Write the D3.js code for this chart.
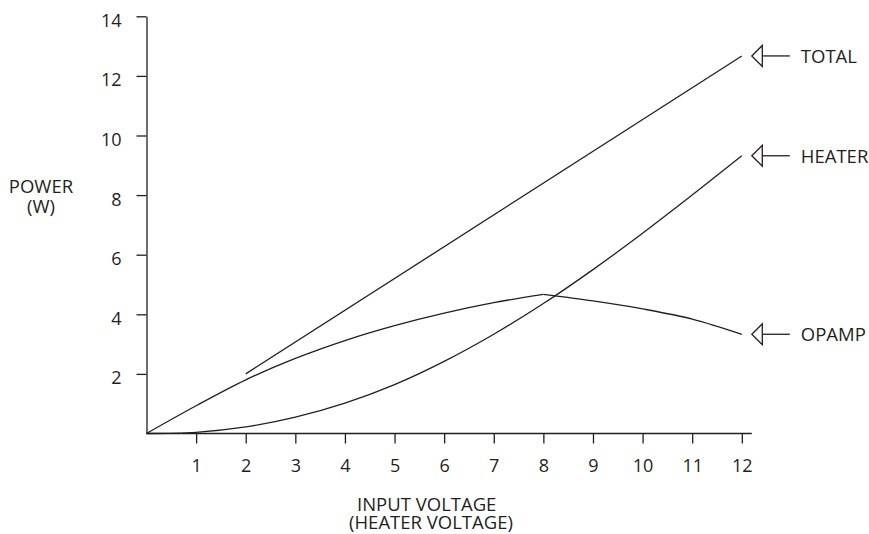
<!DOCTYPE html>
<html>
<head>
<meta charset="utf-8">
<script src="https://cdn.jsdelivr.net/npm/d3@7"></script>
<style>
  body { margin: 0; background: #ffffff; }
  svg { display: block; }
  text { font-family: "Open Sans", "Noto Sans", sans-serif; fill: #231f20; }
</style>
</head>
<body>
<svg id="chart" width="869" height="534"></svg>
<script>
// Power dissipation versus input (heater) voltage
const voltages     = [0, 1, 2, 3, 4, 5, 6, 7, 8, 9, 10, 11, 12];
const heaterPower  = [0, 0.04, 0.22, 0.55, 1.02, 1.64, 2.42, 3.33, 4.36, 5.50, 6.72, 8.00, 9.32];
const opampPower   = [0, 0.93, 1.80, 2.52, 3.12, 3.62, 4.04, 4.39, 4.67, 4.45, 4.18, 3.84, 3.33];
const totalVoltage = [2, 12];
const totalPower   = [2.0, 12.67];

const xTickValues = [1, 2, 3, 4, 5, 6, 7, 8, 9, 10, 11, 12];
const yTickValues = [2, 4, 6, 8, 10, 12, 14];

const seriesLabels = ["TOTAL", "HEATER", "OPAMP"];
const yAxisTitle = ["POWER", "(W)"];
const xAxisTitle = ["INPUT VOLTAGE", "(HEATER VOLTAGE)"];

const ink = "#231f20";
const svg = d3.select("#chart");

const x = d3.scaleLinear().domain([0, 12]).range([146.5, 741.8]);
const y = d3.scaleLinear().domain([0, 14]).range([433.5, 16.3]);

// ---- axes ----
const xAxis = svg.append("g")
  .attr("transform", `translate(0,${y(0)})`)
  .call(d3.axisBottom(x).tickValues(xTickValues).tickSize(10).tickSizeOuter(0).tickFormat(d3.format("d")));
xAxis.select(".domain").remove();
xAxis.append("line")
  .attr("x1", x(0)).attr("x2", x(12) + 10)
  .attr("stroke", ink).attr("stroke-width", 1.3);
xAxis.selectAll(".tick line").attr("stroke", ink).attr("stroke-width", 1.3);
xAxis.selectAll(".tick text")
  .attr("y", 38.5).attr("dy", null)
  .attr("font-size", 18).attr("fill", ink);

const yAxis = svg.append("g")
  .attr("transform", `translate(${x(0)},0)`)
  .call(d3.axisLeft(y).tickValues(yTickValues).tickSize(10).tickSizeOuter(0).tickPadding(15).tickFormat(d3.format("d")));
yAxis.select(".domain").attr("stroke", ink).attr("stroke-width", 1.3);
yAxis.selectAll(".tick line").attr("stroke", ink).attr("stroke-width", 1.3);
yAxis.selectAll(".tick text")
  .attr("dy", null).attr("y", 10)
  .attr("font-size", 18).attr("fill", ink);
svg.selectAll("g").attr("font-family", null).attr("font-size", null);

// ---- curves ----
const line = d3.line()
  .x(d => x(d[0]))
  .y(d => y(d[1]))
  .curve(d3.curveCatmullRom.alpha(0.5));

const heaterPts = voltages.map((v, i) => [v, heaterPower[i]]);
const opampPts  = voltages.map((v, i) => [v, opampPower[i]]);
const peak = opampPower.indexOf(d3.max(opampPower));
// the op-amp curve breaks sharply at its peak, so each side is drawn on its own
const opampRise = opampPts.slice(0, peak + 1);
const opampFall = opampPts.slice(peak);
const totalPts  = totalVoltage.map((v, i) => [v, totalPower[i]]);

const curves = svg.append("g")
  .attr("fill", "none").attr("stroke", ink).attr("stroke-width", 1.3);
[totalPts, heaterPts, opampRise, opampFall].forEach(pts => {
  curves.append("path").attr("d", line(pts));
});

// ---- series call-outs: open arrowhead, shaft, name ----
const endValues = [totalPower[totalPower.length - 1],
                   heaterPower[heaterPower.length - 1],
                   opampPower[opampPower.length - 1]];
const tipX = x(12) + 10;
const callouts = svg.append("g");
seriesLabels.forEach((name, i) => {
  const cy = y(endValues[i]);
  callouts.append("path")
    .attr("d", `M${tipX},${cy} L${tipX + 10.5},${cy - 10.5} L${tipX + 10.5},${cy + 10.5} Z`)
    .attr("fill", "#fff").attr("stroke", ink).attr("stroke-width", 1.3);
  callouts.append("line")
    .attr("x1", tipX + 10.5).attr("x2", tipX + 38)
    .attr("y1", cy).attr("y2", cy)
    .attr("stroke", ink).attr("stroke-width", 1.3);
  callouts.append("text")
    .attr("x", tipX + 49).attr("y", cy + 6.8)
    .attr("font-size", 18.5)
    .text(name);
});

// ---- axis titles ----
svg.append("text")
  .attr("text-anchor", "middle").attr("font-size", 18.5)
  .selectAll("tspan").data(yAxisTitle).join("tspan")
  .attr("x", 41).attr("y", (d, i) => 193 + i * 20)
  .text(d => d);

svg.append("text")
  .attr("font-size", 18.5)
  .selectAll("tspan").data(xAxisTitle).join("tspan")
  .attr("x", (d, i) => i === 0 ? 357 : 349)
  .attr("y", (d, i) => 511 + i * 18)
  .text(d => d);
</script>
</body>
</html>
